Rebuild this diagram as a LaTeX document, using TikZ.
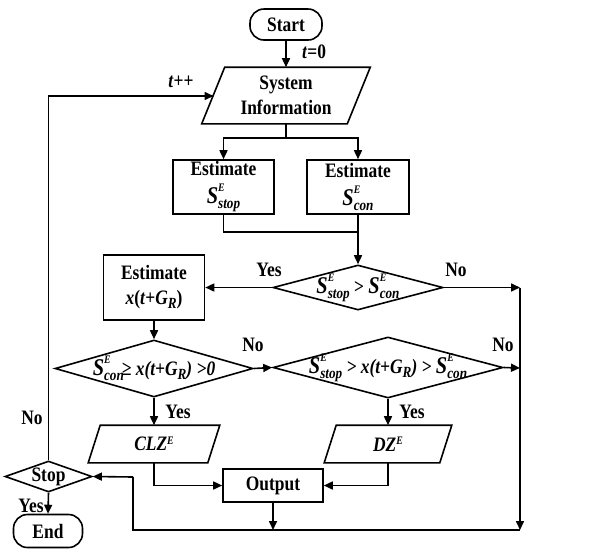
\documentclass[tikz,border=0pt]{standalone}
\usepackage{fontspec}
\setmainfont[FakeStretch=0.85]{Liberation Serif}
\usetikzlibrary{arrows.meta,shapes.geometric,calc}
\newcommand\subfont{\fontsize{15.5}{15.5}\selectfont\itshape}
\newcommand\supfont{\fontsize{11.5}{11.5}\selectfont\itshape}
\newcommand\bigS{{\fontsize{24}{24}\selectfont\itshape S}}
% S with a stacked superscript E and a subscript
\newcommand\Sv[1]{\bigS\rlap{\raisebox{12pt}{\supfont E}}\raisebox{-5pt}{\subfont #1}}
% x(t+G_R)
\newcommand\xt{\textit{x}(\textit{t}+\textit{G}\raisebox{-4pt}{\subfont R})}
\newcommand\xti{\textit{x(t+G\raisebox{-4pt}{\subfont R})}}
\newcommand\supE{\raisebox{6.5pt}{\supfont E}}
\begin{document}
\begin{tikzpicture}[x=1pt,y=-1pt,
  font=\fontsize{20.5}{26}\selectfont\bfseries,
  line width=1.6pt,
  arr/.style={-{Triangle[length=9pt,width=8pt]}},
  box/.style={draw,rectangle,inner sep=0pt,align=center},
  term/.style={draw,rectangle,rounded corners=14pt,inner sep=0pt},
  pbody/.style={rectangle,inner sep=0pt,align=center},
  decide/.style={draw,diamond,inner sep=0pt},
  lbl/.style={inner sep=0pt}]
\useasboundingbox (0,0) rectangle (613,550);

% nodes
\node[term,minimum width=72pt,minimum height=31pt] (start) at (286,24.5) {Start};
\node[pbody,minimum width=144pt,minimum height=55pt] (si) at (286,95.5) {System\\[-1pt]Information};
\node[box,minimum width=101pt,minimum height=54pt] (e1) at (223.5,187) {Estimate\\[2pt]\Sv{stop}};
\node[box,minimum width=102pt,minimum height=54pt] (e2) at (358,187) {Estimate\\[2pt]\Sv{con}};
\node[decide,minimum width=170pt,minimum height=45pt] (d1) at (358,287.5) {\makebox[0pt]{\raisebox{2pt}{\Sv{stop} > \Sv{con}}}};
\node[box,minimum width=101pt,minimum height=65pt] (ex) at (154,287.5) {Estimate\\[-1pt]\xt};
\node[decide,minimum width=198pt,minimum height=57pt] (d2) at (154,368.5) {\makebox[0pt]{\raisebox{1pt}{\Sv{con}\kern-2pt\textit{≥ \xti\ >0}}}};
\node[decide,minimum width=230pt,minimum height=61pt] (d3) at (388,367.5) {\makebox[0pt]{\raisebox{1pt}{\Sv{stop} \textit{> \xti\ >} \Sv{con}}}};
\node[pbody,minimum width=118pt,minimum height=36pt] (clz) at (154,444) {\textit{CLZ\supE}};
\node[pbody,minimum width=114pt,minimum height=36pt] (dz) at (388,444) {\textit{DZ\supE}};
\node[box,minimum width=100pt,minimum height=33pt] (out) at (273,485.5) {Output};
\node[decide,minimum width=87pt,minimum height=31pt] (stop) at (48.5,476.5) {\makebox[0pt]{Stop}};
\node[term,minimum width=69pt,minimum height=33pt] (end) at (48,531) {End};

% slanted input/output shapes
\foreach \n/\s in {si/23,clz/12,dz/12}{
  \draw ($(\n.north west)+(\s/2,0)$) -- ($(\n.north east)+(\s/2,0)$)
     -- ($(\n.south east)-(\s/2,0)$) -- ($(\n.south west)-(\s/2,0)$) -- cycle;
}

% junction points
\coordinate (sp) at (286,138);
\coordinate (jn) at (358,232);
\coordinate (siL) at (213.5,96);
\coordinate (r1) at (520,287.5);
\coordinate (r2) at (520,368);
\coordinate (rb) at (520,530);
\coordinate (lb) at (133,530);
\coordinate (lt) at (133,477);

% connectors
\draw[arr] (start) -- (si.north);
\draw (si.south) -- (sp);
\draw[arr] (sp) -| (e1.north);
\draw[arr] (sp) -| (e2.north);
\draw (e1.south) |- (jn);
\draw[arr] (e2.south) -- (d1.north);
\draw[arr] (d1.west) -- (ex.east);
\draw[arr] (d1.east) -- (r1);
\draw[arr] (r1) -- (rb);
\draw[arr] (ex.south) -- (d2.north);
\draw[arr] (d2.east) -- (d3.west);
\draw[arr] (d3.east) -- (r2);
\draw[arr] (d2.south) -- (clz.north);
\draw[arr] (d3.south) -- (dz.north);
\draw[arr] (clz.south) |- (out.west);
\draw[arr] (dz.south) |- (out.east);
\draw[arr] (out.south) -- (out.south |- rb);
\draw (rb) -- (lb) -- (lt);
\draw[arr] (lt) -- (stop.east);
\draw[arr] (stop.north) |- (siL);
\draw[arr] (stop.south) -- (end.north);

% labels
\node[lbl] (l0) at (314,52) {\textit{t}=0};
\node[lbl] (l1) at (181,82) {\textit{t}++};
\node[lbl] (l2) at (269,270) {Yes};
\node[lbl] (l3) at (456,270) {No};
\node[lbl] (l4) at (253,345) {No};
\node[lbl] (l5) at (503,345) {No};
\node[lbl] (l6) at (178,412) {Yes};
\node[lbl] (l7) at (412,412) {Yes};
\node[lbl] (l8) at (32,418) {No};
\node[lbl] (l9) at (31,506) {Yes};
\end{tikzpicture}
\end{document}
